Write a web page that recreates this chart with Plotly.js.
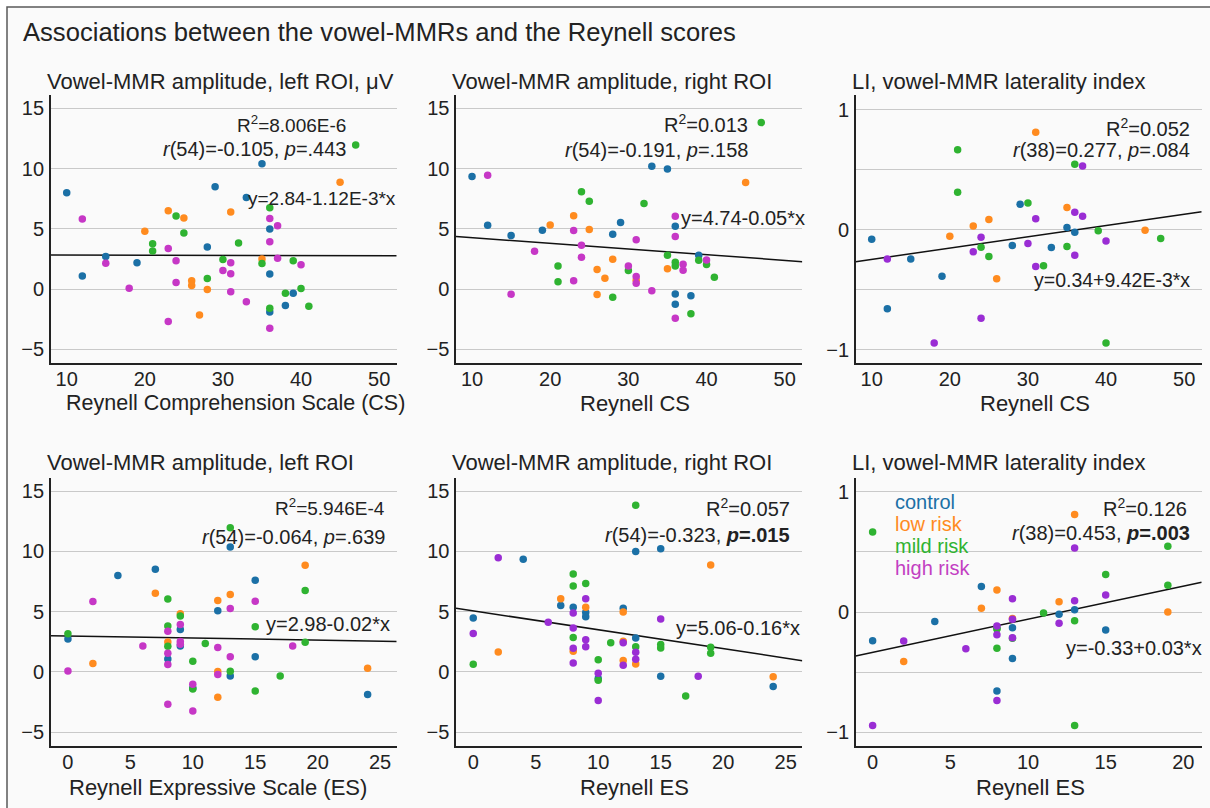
<!DOCTYPE html>
<html>
<head>
<meta charset="utf-8">
<script src="https://cdn.plot.ly/plotly-3.0.1.min.js"></script>
<style>html,body{margin:0;padding:0;background:#fff;}#chart{width:1210px;height:808px;}</style>
</head>
<body>
<div id="chart"></div>
<script>
// ---------- DATA ([x, y] pairs) ----------
const groupNames = ['control', 'low risk', 'mild risk', 'high risk'];

// Panel 1: Reynell CS vs left ROI amplitude
const csLeftControl = [[10,8.0],[12,1.1],[15,2.7],[19,2.2],[28,3.5],[29,8.5],[33,7.6],[35,10.4],[36,5.0],[36,1.25],[36,-1.9],[38,-1.35],[39,-0.33]];
const csLeftLow = [[20,4.8],[23,6.5],[25,5.9],[26,0.69],[26,0.3],[27,-2.13],[28,-0.03],[31,6.4],[35,2.5],[45,8.86]];
const csLeftMild = [[21,3.76],[21,3.16],[24,6.06],[25,4.65],[28,0.89],[30,2.46],[32,3.82],[35,2.13],[36,6.75],[36,-1.58],[38,-0.33],[39,2.35],[40,0.06],[41,-1.41],[47,11.96]];
const csLeftHigh = [[12,5.81],[15,2.16],[18,0.08],[23,3.38],[23,-2.68],[24,2.35],[24,0.55],[30,1.55],[31,2.19],[31,1.27],[31,-0.22],[33,-1.05],[36,5.87],[36,3.93],[36,-3.24],[37,5.26],[37,2.57],[40,2.02]];

// Panel 2: Reynell CS vs right ROI amplitude
const csRightControl = [[10,9.34],[12,5.3],[15,4.45],[19,4.89],[28,4.56],[29,5.52],[33,10.19],[35,9.97],[36,5.22],[36,-0.39],[36,-1.24],[38,-0.55],[39,2.82]];
const csRightLow = [[20,5.33],[23,6.08],[25,4.94],[26,1.63],[26,-0.44],[27,0.91],[28,2.49],[31,0.75],[35,1.69],[45,8.84]];
const csRightMild = [[21,1.93],[21,0.61],[24,8.07],[25,7.29],[28,-0.66],[30,1.55],[32,7.1],[35,2.82],[36,2.24],[36,1.93],[38,-2.04],[39,2.4],[40,2.04],[41,0.99],[47,13.81]];
const csRightHigh = [[12,9.45],[15,-0.41],[18,3.15],[23,4.86],[23,0.69],[24,3.65],[24,2.65],[30,1.93],[31,4.09],[31,1.05],[31,0.5],[33,-0.14],[36,6.05],[36,4.36],[36,-2.4],[37,2.07],[37,1.57],[40,2.43]];

// Panel 3: Reynell CS vs laterality index
const csLiControl = [[10,-0.078],[12,-0.658],[15,-0.242],[19,-0.386],[28,-0.131],[29,0.214],[33,-0.147],[35,0.019],[36,-0.019]];
const csLiLow = [[20,-0.053],[23,0.033],[25,0.086],[26,-0.408],[31,0.814],[35,0.186],[45,-0.003]];
const csLiMild = [[21,0.669],[21,0.314],[24,-0.144],[25,-0.222],[30,0.225],[32,-0.3],[35,-0.139],[36,0.547],[39,-0.008],[40,-0.944],[47,-0.072]];
const csLiHigh = [[12,-0.242],[18,-0.944],[23,-0.183],[24,-0.061],[24,-0.736],[30,-0.114],[31,0.094],[31,-0.306],[36,0.147],[36,-0.211],[37,0.533],[37,0.114],[40,-0.092]];

// Panel 4: Reynell ES vs left ROI amplitude
const esLeftControl = [[0,2.74],[4,8.0],[7,8.52],[8,1.08],[9,3.52],[9,2.16],[10,-1.33],[12,5.07],[13,10.38],[13,-0.33],[15,7.61],[15,1.25],[24,-1.88]];
const esLeftLow = [[2,0.69],[7,6.53],[8,2.49],[9,4.84],[12,5.92],[12,0.03],[12,-2.1],[13,6.42],[19,8.86],[24,0.3]];
const esLeftMild = [[0,3.16],[8,6.06],[8,3.82],[8,2.13],[9,4.65],[10,0.89],[10,-1.41],[11,2.35],[13,11.96],[13,0.06],[15,3.76],[15,-1.58],[17,-0.33],[19,6.75],[19,2.46]];
const esLeftHigh = [[0,0.08],[2,5.84],[6,2.16],[8,3.38],[8,1.55],[8,0.61],[8,-2.68],[9,3.93],[9,2.52],[9,2.3],[10,-1.02],[10,-3.24],[12,2.02],[12,-0.22],[13,5.26],[13,1.25],[15,5.87],[18,2.16]];

// Panel 5: Reynell ES vs right ROI amplitude
const esRightControl = [[0,4.48],[4,9.36],[7,5.52],[8,5.36],[9,4.94],[9,4.59],[10,-0.55],[12,5.28],[13,10.0],[13,2.82],[15,10.22],[15,-0.36],[24,-1.22]];
const esRightLow = [[2,1.66],[7,6.08],[8,1.71],[9,5.36],[12,4.97],[12,2.54],[12,0.94],[13,0.66],[19,8.87],[24,-0.41]];
const esRightMild = [[0,0.64],[8,8.12],[8,7.13],[8,2.85],[9,7.35],[10,1.02],[10,-0.69],[11,2.43],[13,13.84],[13,2.1],[15,2.27],[15,1.99],[17,-1.99],[19,2.04],[19,1.55]];
const esRightHigh = [[0,3.18],[2,9.48],[6,4.12],[8,4.89],[8,3.65],[8,1.96],[8,0.75],[9,6.08],[9,2.68],[9,2.1],[10,-0.11],[10,-2.38],[12,2.43],[12,0.55],[13,1.63],[13,1.05],[15,4.39],[18,-0.36]];

// Panel 6: Reynell ES vs laterality index
const esLiControl = [[0,-0.239],[4,-0.08],[7,0.211],[8,-0.657],[9,-0.13],[9,-0.386],[12,-0.019],[13,0.019],[15,-0.15]];
const esLiLow = [[2,-0.411],[7,0.031],[8,0.183],[9,-0.053],[12,0.086],[13,0.81],[19,0.0]];
const esLiMild = [[0,0.666],[8,-0.141],[8,-0.135],[8,-0.302],[9,-0.219],[11,-0.008],[13,-0.072],[13,-0.943],[15,0.311],[19,0.546],[19,0.222]];
const esLiHigh = [[0,-0.943],[2,-0.241],[6,-0.305],[8,-0.117],[8,-0.189],[8,-0.735],[9,0.111],[9,-0.061],[9,-0.214],[12,-0.094],[13,0.533],[13,0.094],[15,0.141]];

// Regression lines (intercept, slope)
const fitIntercepts = [2.84, 4.74, -0.34, 2.98, 5.07, -0.335];
const fitSlopes = [-0.00112, -0.047, 0.00942, -0.017, -0.157, 0.0275];

// Tick values
const csTicks = [10, 20, 30, 40, 50];
const esTicks25 = [0, 5, 10, 15, 20, 25];
const esTicks20 = [0, 5, 10, 15, 20];
const amplitudeTicks = [-5, 0, 5, 10, 15];
const liTicks = [-1, 0, 1];

// Texts
const panelTitles = ['Vowel-MMR amplitude, left ROI, μV', 'Vowel-MMR amplitude, right ROI', 'LI, vowel-MMR laterality index',
                     'Vowel-MMR amplitude, left ROI', 'Vowel-MMR amplitude, right ROI', 'LI, vowel-MMR laterality index'];
const xTitles = ['Reynell Comprehension Scale (CS)', 'Reynell CS', 'Reynell CS', 'Reynell Expressive Scale (ES)', 'Reynell ES', 'Reynell ES'];
const r2Labels = ['R<sup>2</sup>=8.006E-6', 'R<sup>2</sup>=0.013', 'R<sup>2</sup>=0.052', 'R<sup>2</sup>=5.946E-4', 'R<sup>2</sup>=0.057', 'R<sup>2</sup>=0.126'];
const rLabels = ['<i>r</i>(54)=-0.105, <i>p</i>=.443', '<i>r</i>(54)=-0.191, <i>p</i>=.158', '<i>r</i>(38)=0.277, <i>p</i>=.084',
                 '<i>r</i>(54)=-0.064, <i>p</i>=.639', '<i>r</i>(54)=-0.323, <b><i>p</i>=.015</b>', '<i>r</i>(38)=0.453, <b><i>p</i>=.003</b>'];
const eqLabels = ['y=2.84-1.12E-3*x', 'y=4.74-0.05*x', 'y=0.34+9.42E-3*x', 'y=2.98-0.02*x', 'y=5.06-0.16*x', 'y=-0.33+0.03*x'];
const mainTitle = 'Associations between the vowel-MMRs and the Reynell scores';

// ---------- LAYOUT HELPERS ----------
const W = 1210, H = 808;
const px = v => v / W;
const py = v => 1 - v / H;
const colX = [[50.7, 396.7], [456, 802.3], [855.7, 1201.7]];
const rowY = [[95, 363], [478, 746]];
const xRanges = [[7.95, 52.25], [7.95, 52.25], [7.95, 52.25], [-1.38, 26.33], [-1.38, 26.33], [-1.09, 21.18]];
const yRanges = [[-6.12, 16.1], [-6.12, 16.1], [-1.11, 1.125], [-6.15, 16.1], [-6.15, 16.1], [-1.114, 1.114]];
const xTickVals = [csTicks, csTicks, csTicks, esTicks25, esTicks25, esTicks20];

const FONT = 'Liberation Sans, Arial, Helvetica, sans-serif';
const TXT = '#222222';
const magenta = '#c637c6', purple = '#9a2dd4';
const palettes = [
  ['#1b70a6', '#ff8b1f', '#2fb331', magenta],
  ['#1b70a6', '#ff8b1f', '#2fb331', magenta],
  ['#1b70a6', '#ff8b1f', '#2fb331', purple],
  ['#1b70a6', '#ff8b1f', '#2fb331', magenta],
  ['#1b70a6', '#ff8b1f', '#2fb331', purple],
  ['#1b70a6', '#ff8b1f', '#2fb331', purple]
];
const panelData = [
  [csLeftControl, csLeftLow, csLeftMild, csLeftHigh],
  [csRightControl, csRightLow, csRightMild, csRightHigh],
  [csLiControl, csLiLow, csLiMild, csLiHigh],
  [esLeftControl, esLeftLow, esLeftMild, esLeftHigh],
  [esRightControl, esRightLow, esRightMild, esRightHigh],
  [esLiControl, esLiLow, esLiMild, esLiHigh]
];

const traces = [];
const layout = {
  width: W, height: H,
  margin: {l: 0, r: 0, t: 0, b: 0, pad: 0},
  paper_bgcolor: '#ffffff',
  plot_bgcolor: 'rgba(0,0,0,0)',
  showlegend: false,
  font: {family: FONT, size: 20, color: TXT},
  shapes: [{
    type: 'rect', xref: 'paper', yref: 'paper', layer: 'below',
    x0: px(7), x1: px(1215), y0: py(815), y1: py(7),
    line: {color: '#5a5a5a', width: 1.5}, fillcolor: '#fafafa'
  }],
  annotations: []
};

function ann(text, x, y, xanchor, size, color) {
  return {
    text: text, xref: 'paper', yref: 'paper', x: px(x), y: py(y),
    xanchor: xanchor, yanchor: 'middle', showarrow: false,
    font: {family: FONT, size: size || 20, color: color || TXT}
  };
}

// x-axis title centres (pixels)
const xTitlePos = [[235, 403], [635, 403], [1035, 403], [218, 787], [634, 787], [1030, 787]];

for (let p = 0; p < 6; p++) {
  const col = p % 3, row = Math.floor(p / 3);
  const sfx = p === 0 ? '' : String(p + 1);
  const xa = 'x' + sfx, ya = 'y' + sfx;
  const isLI = (col === 2);
  layout['xaxis' + sfx] = {
    domain: [px(colX[col][0]), px(colX[col][1])],
    anchor: ya, range: xRanges[p], tickvals: xTickVals[p],
    showgrid: false, zeroline: false, showline: true, linecolor: '#222', linewidth: 1.6,
    ticks: '', tickfont: {family: FONT, size: 20, color: TXT}, ticklabelstandoff: -3,
    fixedrange: true
  };
  const yax = {
    domain: [py(rowY[row][1]), py(rowY[row][0])],
    anchor: xa, range: yRanges[p],
    tickvals: isLI ? liTicks : amplitudeTicks,
    showgrid: true, gridcolor: '#c9c9c9', gridwidth: 1, zeroline: false,
    showline: true, linecolor: '#222', linewidth: 1.6,
    ticks: '', tickfont: {family: FONT, size: 20, color: TXT}, ticklabelstandoff: 1,
    fixedrange: true
  };
  if (isLI) yax.minor = {dtick: 0.5, tick0: 0, showgrid: true, gridcolor: '#c9c9c9', gridwidth: 1, ticks: ''};
  layout['yaxis' + sfx] = yax;

  // regression line from axis range ends
  const xr = xRanges[p];
  traces.push({
    type: 'scatter', mode: 'lines', xaxis: xa, yaxis: ya,
    x: [xr[0], xr[1]],
    y: [fitIntercepts[p] + fitSlopes[p] * xr[0], fitIntercepts[p] + fitSlopes[p] * xr[1]],
    line: {color: '#111', width: 1.5}, hoverinfo: 'skip'
  });
  // markers per group
  panelData[p].forEach((pts, g) => {
    traces.push({
      type: 'scatter', mode: 'markers', xaxis: xa, yaxis: ya, name: groupNames[g],
      x: pts.map(d => d[0]), y: pts.map(d => d[1]),
      marker: {color: palettes[p][g], size: 7.5, line: {width: 0}}
    });
  });
  // panel title
  const titleY = row === 0 ? 82 : 463;
  layout.annotations.push(ann(panelTitles[p], colX[col][0] - 6, titleY, 'left', 22));
  // x-axis title
  layout.annotations.push(ann(xTitles[p], xTitlePos[p][0], xTitlePos[p][1], 'center', p === 0 ? 21.5 : 22));
}

// statistics annotations (pixel positions, font sizes)
const statPos = [
  {r2: [348, 124, 19], r: [348, 149, 20], eq: [398, 198, 19]},
  {r2: [750, 123, 20], r: [750, 150, 20], eq: [807, 218, 20]},
  {r2: [1192, 127, 20], r: [1192, 150, 20], eq: [1192, 280, 19.5]},
  {r2: [387, 507, 19], r: [387, 537, 20], eq: [392, 624, 20]},
  {r2: [792, 507, 20], r: [792, 535, 20], eq: [802, 628, 20]},
  {r2: [1189, 507, 20], r: [1192, 533, 20], eq: [1204, 648, 20]}
];
for (let p = 0; p < 6; p++) {
  const s = statPos[p];
  layout.annotations.push(ann(r2Labels[p], s.r2[0], s.r2[1], 'right', s.r2[2]));
  layout.annotations.push(ann(rLabels[p], s.r[0], s.r[1], 'right', s.r[2]));
  layout.annotations.push(ann(eqLabels[p], s.eq[0], s.eq[1], 'right', s.eq[2]));
}

// legend as coloured text in panel 6
const legendY = [502, 524, 546, 568];
groupNames.forEach((n, g) => {
  layout.annotations.push(ann(n, 893, legendY[g], 'left', 20, g === 3 ? '#c23fc2' : palettes[5][g]));
});

// main title
layout.annotations.push(ann(mainTitle, 21, 32, 'left', 25.6));

Plotly.newPlot('chart', traces, layout, {displayModeBar: false, staticPlot: true});
</script>
</body>
</html>
